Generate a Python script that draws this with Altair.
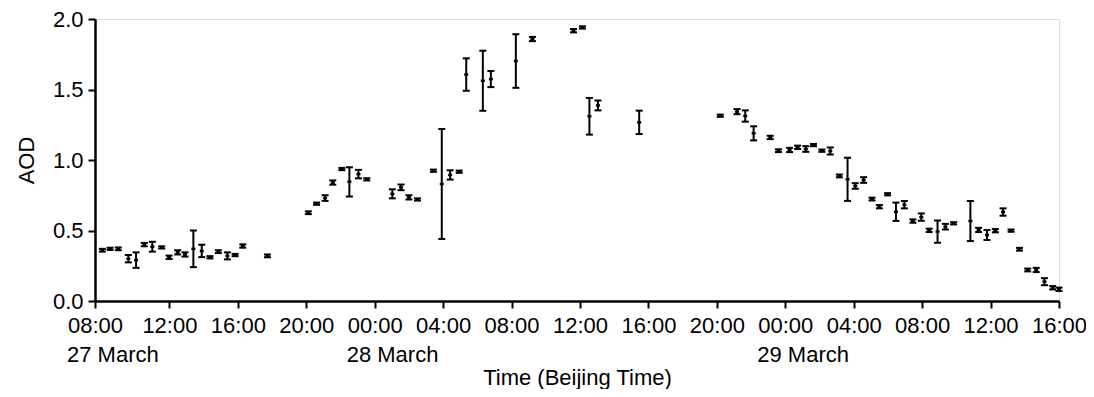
import altair as alt
import pandas as pd

# hours after 27 March 08:00 (Beijing Time)
hours = [0.08, 0.53, 1.01, 1.60, 2.05, 2.53, 3.00, 3.55, 3.98, 4.48, 4.91, 5.40, 5.89, 6.37, 6.86, 7.39, 7.84, 8.29, 9.73,
         12.12, 12.60, 13.10, 13.55, 14.08, 14.52, 15.05, 15.54, 17.03, 17.54, 18.00, 18.50, 19.43, 19.92, 20.41, 20.94,
         21.35, 22.32, 22.79, 24.25, 25.22, 27.62, 28.14, 28.55, 29.05, 31.46,
         36.20, 37.18, 37.66, 38.15, 39.12, 39.60, 40.25, 40.72, 41.20, 41.65, 42.14, 42.63, 43.16, 43.64, 44.09, 44.58,
         45.07, 45.50, 45.98, 46.47, 46.96, 47.46, 47.95, 48.41, 48.90, 49.36, 49.84, 50.82, 51.30, 51.79, 52.28, 52.73,
         53.20, 53.69, 54.17, 54.67, 55.15, 55.63, 56.00]
aod = [0.36, 0.37, 0.37, 0.30, 0.29, 0.40, 0.385, 0.38, 0.31, 0.345, 0.33, 0.37, 0.355, 0.31, 0.35, 0.32, 0.326, 0.39, 0.32,
       0.626, 0.69, 0.73, 0.84, 0.936, 0.845, 0.90, 0.863, 0.76, 0.806, 0.735, 0.72, 0.924, 0.83, 0.894, 0.917,
       1.606, 1.562, 1.574, 1.702, 1.858, 1.917, 1.94, 1.31, 1.387, 1.267,
       1.314, 1.343, 1.312, 1.189, 1.16, 1.066, 1.071, 1.09, 1.078, 1.106, 1.066, 1.064, 0.887, 0.863, 0.816, 0.858,
       0.723, 0.669, 0.757, 0.633, 0.683, 0.567, 0.595, 0.501, 0.492, 0.527, 0.551, 0.567, 0.504, 0.468, 0.499, 0.631,
       0.499, 0.367, 0.22, 0.22, 0.137, 0.094, 0.083]
err = [0.01, 0.008, 0.01, 0.026, 0.055, 0.012, 0.035, 0.008, 0.012, 0.015, 0.015, 0.13, 0.044, 0.008, 0.01, 0.025, 0.008, 0.012, 0.01,
       0.01, 0.008, 0.02, 0.015, 0.008, 0.104, 0.03, 0.008, 0.032, 0.02, 0.015, 0.008, 0.008, 0.39, 0.033, 0.008,
       0.115, 0.213, 0.057, 0.19, 0.015, 0.012, 0.008, 0.13, 0.035, 0.083,
       0.008, 0.018, 0.04, 0.05, 0.012, 0.01, 0.015, 0.012, 0.02, 0.008, 0.008, 0.025, 0.01, 0.153, 0.02, 0.02,
       0.01, 0.012, 0.008, 0.065, 0.026, 0.012, 0.026, 0.012, 0.079, 0.02, 0.008, 0.142, 0.015, 0.035, 0.012, 0.026,
       0.008, 0.01, 0.01, 0.015, 0.025, 0.012, 0.012]

x_ticks = [-0.35] + list(range(2, 57, 2))
y_ticks = [0, 0.25, 0.5, 0.75, 1.0, 1.25, 1.5, 1.75, 2.0]
date_pos = [-0.35, 16, 40]
date_labels = ["27 March", "28 March", "29 March"]

df = pd.DataFrame({"h": hours, "aod": aod, "err": err})
df["lo"] = df["aod"] - df["err"]
df["hi"] = df["aod"] + df["err"]
dates = pd.DataFrame({"h": date_pos, "label": date_labels})

FONT = "Liberation Sans"
W, H = 964, 282

xscale = alt.Scale(domain=[-0.35, 56], nice=False, zero=False)
yscale = alt.Scale(domain=[0, 2], nice=False)

x_label_expr = ("datum.value < 0 ? '08:00' : (datum.value % 4 == 0 ? "
                "((((8 + datum.value) % 24) < 10 ? '0' : '') + ((8 + datum.value) % 24) + ':00') : '')")

xaxis = alt.Axis(values=x_ticks, labelExpr=x_label_expr, title="Time (Beijing Time)",
                 grid=False, domainColor="black", domainWidth=2.5, tickColor="black", tickWidth=2,
                 tickSize={"condition": {"test": "datum.value >= 0 && datum.value % 4 != 0", "value": 4}, "value": 7},
                 labelFont=FONT, labelFontSize=22, labelColor="black", labelBaseline="alphabetic",
                 labelPadding=24, labelOverlap=False, labelFlush=False,
                 titleFont=FONT, titleFontSize=22, titleFontWeight="normal", titleColor="black",
                 titleBaseline="alphabetic", titleY=83)
yaxis = alt.Axis(values=y_ticks, labelExpr="datum.value % 0.5 == 0 ? format(datum.value, '.1f') : ''",
                 title="AOD", grid=False, domainColor="black", domainWidth=2.5, tickColor="black", tickWidth=2,
                 tickSize={"condition": {"test": "datum.value % 0.5 != 0", "value": 4}, "value": 7},
                 labelFont=FONT, labelFontSize=22, labelColor="black", labelPadding=5, labelOverlap=False,
                 titleFont=FONT, titleFontSize=22, titleFontWeight="normal", titleColor="black",
                 titleBaseline="alphabetic", titleX=-62, titleY=H / 2, titleAlign="center", titleAngle=270)

base = alt.Chart(df)
bars = base.mark_rule(color="black", strokeWidth=2).encode(
    x=alt.X("h:Q", scale=xscale, axis=xaxis),
    y=alt.Y("lo:Q", scale=yscale, axis=yaxis),
    y2="hi:Q",
)
cap_lo = base.mark_tick(orient="horizontal", color="black", size=7, thickness=2, opacity=1).encode(
    x="h:Q", y="lo:Q")
cap_hi = base.mark_tick(orient="horizontal", color="black", size=7, thickness=2, opacity=1).encode(
    x="h:Q", y="hi:Q")
center = base.mark_tick(orient="horizontal", color="black", size=4, thickness=2.5, opacity=1).encode(
    x="h:Q", y="aod:Q")

date_text = alt.Chart(dates).mark_text(align="left", baseline="alphabetic", dx=-28, font=FONT,
                                       fontSize=22, color="black").encode(
    x="h:Q", y=alt.value(342.5), text="label:N")

chart = alt.layer(bars, cap_lo, cap_hi, center, date_text).properties(
    width=W, height=H,
    autosize=alt.AutoSizeParams(type="none"),
    padding={"left": 87, "top": 11, "right": 27, "bottom": 88},
).configure_view(stroke=None).configure(background="white")

chart.save("out.html", embed_options={"renderer": "svg", "actions": False})
